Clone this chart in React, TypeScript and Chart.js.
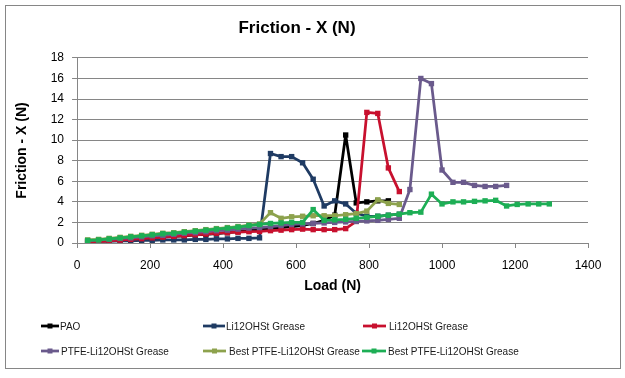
import React, { useEffect, useRef } from 'react';
import { Chart, registerables } from 'chart.js';

Chart.register(...registerables);

// Load steps (N)
const LOADS = [29, 59, 88, 118, 147, 177, 206, 235, 265, 294, 324, 353, 382, 412, 441, 471, 500, 530, 559, 588, 618, 647, 677, 706, 736, 765, 794, 824, 853, 883, 912, 942, 971, 1000, 1030, 1059, 1089, 1118, 1147, 1177, 1206, 1236, 1265, 1294];

const PAO = [0.15, 0.2, 0.25, 0.3, 0.4, 0.45, 0.5, 0.6, 0.65, 0.7, 0.8, 0.85, 0.9, 1.0, 1.1, 1.2, 1.3, 1.4, 1.5, 1.6, 1.7, 1.9, 2.2, 2.7, 10.5, 3.9, 4.0, 4.1, 4.1];
const LI_BLUE = [0.2, 0.15, 0.15, 0.2, 0.2, 0.25, 0.25, 0.3, 0.3, 0.3, 0.35, 0.35, 0.4, 0.4, 0.45, 0.45, 0.5, 8.7, 8.4, 8.4, 7.8, 6.2, 3.6, 4.1, 3.8, 2.9, 2.6, 2.6, 2.7, 2.8];
const LI_RED = [0.05, 0.12, 0.2, 0.28, 0.35, 0.42, 0.5, 0.57, 0.65, 0.72, 0.8, 0.87, 0.95, 1.0, 1.05, 1.1, 1.12, 1.2, 1.25, 1.3, 1.35, 1.3, 1.3, 1.3, 1.4, 2.1, 12.7, 12.6, 7.3, 5.0];
const PTFE = [0.2, 0.3, 0.35, 0.45, 0.5, 0.6, 0.7, 0.75, 0.85, 0.95, 1.0, 1.1, 1.2, 1.25, 1.35, 1.45, 1.5, 1.6, 1.7, 1.8, 1.85, 1.9, 1.95, 2.0, 2.05, 2.1, 2.15, 2.2, 2.3, 2.4, 5.2, 16.0, 15.5, 7.1, 5.9, 5.9, 5.6, 5.5, 5.5, 5.6];
const BEST_OLIVE = [0.3, 0.35, 0.45, 0.55, 0.65, 0.75, 0.85, 0.95, 1.0, 1.1, 1.2, 1.3, 1.4, 1.5, 1.6, 1.75, 1.85, 2.95, 2.4, 2.55, 2.6, 2.65, 2.65, 2.65, 2.75, 2.85, 3.1, 4.2, 3.85, 3.75];
const BEST_GREEN = [0.25, 0.3, 0.4, 0.5, 0.6, 0.7, 0.8, 0.9, 0.95, 1.05, 1.15, 1.25, 1.35, 1.45, 1.55, 1.7, 1.8, 1.9, 1.95, 2.0, 2.0, 3.25, 2.2, 2.25, 2.3, 2.4, 2.5, 2.6, 2.7, 2.8, 2.95, 3.0, 4.75, 3.8, 4.0, 4.0, 4.05, 4.1, 4.15, 3.6, 3.75, 3.8, 3.8, 3.8];

const LABELS = ['PAO', 'Li12OHSt Grease', 'Li12OHSt Grease', 'PTFE-Li12OHSt Grease', 'Best PTFE-Li12OHSt Grease', 'Best PTFE-Li12OHSt Grease'];
const COLORS = ['#000000', '#1F3B63', '#C8102E', '#6A5A8C', '#8DA24D', '#1DAE55'];
const VALUES = [PAO, LI_BLUE, LI_RED, PTFE, BEST_OLIVE, BEST_GREEN];

// legend layout (positions only)
const LEGEND_POS = [
  { lx: 41, lw: 18, tx: 60, y: 326 },
  { lx: 203, lw: 22, tx: 226, y: 326 },
  { lx: 363, lw: 23, tx: 389, y: 326 },
  { lx: 41, lw: 18, tx: 61, y: 351 },
  { lx: 203, lw: 23, tx: 229, y: 351 },
  { lx: 362, lw: 24, tx: 388, y: 351 },
];

const FONT = 'Liberation Sans, Arial, sans-serif';

const framePlugin = {
  id: 'frame',
  beforeDraw(chart: any) {
    const ctx = chart.ctx;
    ctx.save();
    ctx.fillStyle = '#ffffff';
    ctx.fillRect(0, 0, chart.width, chart.height);
    ctx.restore();
  },
  afterDraw(chart: any) {
    const ctx = chart.ctx;
    ctx.save();
    ctx.strokeStyle = '#868686';
    ctx.lineWidth = 1;
    ctx.strokeRect(5.5, 5.5, 615, 363);
    ctx.restore();
  },
};

export default function App() {
  const ref = useRef<HTMLCanvasElement>(null);

  useEffect(() => {
    document.body.style.margin = '0';
    const datasets = VALUES.map((vals, i) => ({
      label: LABELS[i],
      data: vals.map((v, j) => ({ x: LOADS[j], y: v })),
      borderColor: COLORS[i],
      backgroundColor: COLORS[i],
      borderWidth: 2.75,
      borderJoinStyle: 'round' as const,
      borderCapStyle: 'round' as const,
      pointStyle: 'rect' as const,
      pointRadius: 3.8,
      pointBorderWidth: 0,
      pointBackgroundColor: COLORS[i],
      tension: 0,
      order: VALUES.length - i,
    }));
    const chart = new Chart(ref.current!, {
      type: 'line',
      data: { datasets },
      plugins: [framePlugin],
      options: {
        responsive: false,
        animation: false,
        events: [],
        layout: { padding: { top: 5, left: 6, right: 37, bottom: 79.6 } },
        plugins: {
          legend: { display: false },
          tooltip: { enabled: false },
          title: {
            display: true,
            text: 'Friction - X (N)',
            color: '#000',
            font: { family: FONT, size: 17, weight: 'bold' },
            padding: { top: 13.5, bottom: 19 },
          },
        },
        scales: {
          x: {
            type: 'linear',
            min: 0,
            max: 1400,
            ticks: {
              stepSize: 200,
              color: '#000',
              padding: 10,
              maxRotation: 0,
              font: { family: FONT, size: 12 },
              callback: (v: any) => String(v),
            },
            grid: { display: true, drawOnChartArea: false, drawTicks: true, tickLength: 5, color: '#868686' },
            border: { display: true, color: '#868686' },
            title: {
              display: true,
              text: 'Load (N)',
              color: '#000',
              font: { family: FONT, size: 14, weight: 'bold' },
              padding: { top: -4.8, bottom: 4 },
            },
          },
          y: {
            min: 0,
            max: 18,
            ticks: { stepSize: 2, color: '#000', padding: 8, font: { family: FONT, size: 12 } },
            grid: { color: '#868686', tickLength: 5 },
            border: { display: true, color: '#868686' },
            title: {
              display: true,
              text: 'Friction - X (N)',
              color: '#000',
              font: { family: FONT, size: 14, weight: 'bold' },
              padding: { top: 7.6, bottom: 12.3 },
            },
          },
        },
      },
    });
    return () => chart.destroy();
  }, []);

  return (
    <div style={{ position: 'relative', width: 625, height: 378, background: '#fff', overflow: 'hidden' }}>
      <canvas ref={ref} width={625} height={378} style={{ position: 'absolute', left: 0, top: 0 }} />
      {LEGEND_POS.map((p, i) => (
        <React.Fragment key={i}>
          <svg
            width={p.lw}
            height={10}
            style={{ position: 'absolute', left: p.lx, top: p.y - 5 }}
          >
            <line x1={0} y1={5} x2={p.lw} y2={5} stroke={COLORS[i]} strokeWidth={2.75} />
            <rect x={p.lw / 2 - 2.5} y={2.5} width={5} height={5} fill={COLORS[i]} />
          </svg>
          <div
            style={{
              position: 'absolute',
              left: p.tx,
              top: p.y - 8,
              height: 16,
              lineHeight: '16px',
              fontFamily: FONT,
              fontSize: 11,
              color: '#1a1a1a',
              whiteSpace: 'nowrap',
              transform: 'scaleX(0.91)',
              transformOrigin: '0 50%',
            }}
          >
            {LABELS[i]}
          </div>
        </React.Fragment>
      ))}
    </div>
  );
}
